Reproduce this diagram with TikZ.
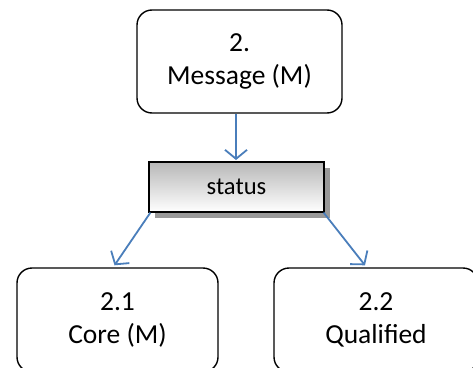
\documentclass[tikz,border=0pt]{standalone}
\usepackage{fontspec}
\setmainfont{Carlito}
\usetikzlibrary{arrows.meta,shadows}
\definecolor{arrowblue}{HTML}{4A7EBB}
\tikzset{
  box/.style={draw=black, line width=1.4pt, rounded corners=15pt, align=center,
    font=\fontsize{27.5}{33}\selectfont, inner sep=0pt},
  statusbox/.style={draw=black, line width=1.2pt, top color=black!28, bottom color=white,
    drop shadow={shadow xshift=6pt, shadow yshift=-6pt, fill=black!40, opacity=1},
    font=\fontsize{24.6}{30}\selectfont, minimum width=175pt, minimum height=50pt, inner sep=0pt},
  link/.style={draw=arrowblue, line width=1.8pt, -{Straight Barb[length=9pt,width=22pt,line width=1.8pt]}}
}
\begin{document}
\begin{tikzpicture}[x=1pt,y=-1pt]
\useasboundingbox (0,0) rectangle (473,367);
\node[box, minimum width=205pt, minimum height=103pt] (m) at (239.5,61.5) {2.\\Message (M)};
\node[statusbox] (s) at (236.5,187) {status};
\node[box, minimum width=201pt, minimum height=104pt] (c) at (117.5,320) {2.1\\Core (M)};
\node[box, minimum width=204pt, minimum height=104pt] (q) at (376,320) {2.2\\Qualified};
\coordinate (mtip) at (236,160);
\draw[link] (m.south -| mtip) -- (mtip);
\draw[link] ([xshift=2pt]s.south west) -- ([xshift=-3pt,yshift=2pt]c.north);
\draw[link] ([xshift=-1pt]s.south east) -- ([xshift=-11pt,yshift=2pt]q.north);
\end{tikzpicture}
\end{document}
